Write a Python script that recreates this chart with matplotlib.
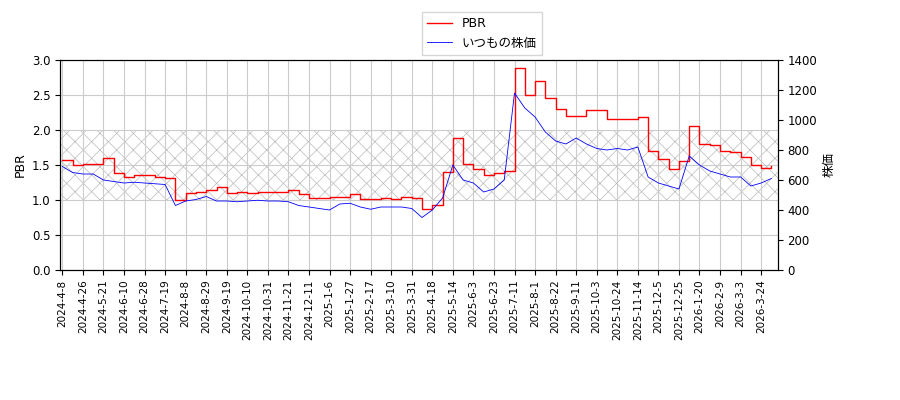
import numpy as np
import matplotlib.pyplot as plt

plt.rcParams['font.family'] = ['DejaVu Sans', 'Noto Sans CJK JP']
plt.rcParams['hatch.linewidth'] = 0.5

tick_labels = ['2024-4-8', '2024-4-26', '2024-5-21', '2024-6-10', '2024-6-28', '2024-7-19',
               '2024-8-8', '2024-8-29', '2024-9-19', '2024-10-10', '2024-10-31', '2024-11-21',
               '2024-12-11', '2025-1-6', '2025-1-27', '2025-2-17', '2025-3-10', '2025-3-31',
               '2025-4-18', '2025-5-14', '2025-6-3', '2025-6-23', '2025-7-11', '2025-8-1',
               '2025-8-22', '2025-9-11', '2025-10-3', '2025-10-24', '2025-11-14', '2025-12-5',
               '2025-12-25', '2026-1-20', '2026-2-9', '2026-3-3', '2026-3-24']

# two readings per tick interval
price = [690, 650, 640, 640, 600, 590, 580, 585, 580, 575, 570, 430, 460, 470, 490, 460,
         460, 455, 460, 465, 460, 460, 455, 430, 420, 410, 400, 440, 445, 420, 405, 420,
         420, 420, 410, 350, 400, 480, 700, 600, 580, 520, 540, 600, 1180, 1080, 1020, 920,
         860, 840, 880, 840, 810, 800, 810, 800, 820, 620, 580, 560, 540, 760, 700, 660,
         640, 620, 620, 560, 580, 610]
pbr = [1.57, 1.50, 1.52, 1.52, 1.60, 1.38, 1.33, 1.35, 1.35, 1.33, 1.32, 1.00, 1.10, 1.12,
       1.15, 1.18, 1.10, 1.12, 1.10, 1.12, 1.12, 1.12, 1.15, 1.08, 1.03, 1.03, 1.05, 1.05,
       1.08, 1.02, 1.02, 1.03, 1.02, 1.04, 1.03, 0.87, 0.93, 1.40, 1.88, 1.52, 1.45, 1.35,
       1.38, 1.42, 2.88, 2.50, 2.70, 2.45, 2.30, 2.20, 2.20, 2.28, 2.28, 2.16, 2.16, 2.16,
       2.18, 1.70, 1.58, 1.45, 1.55, 2.05, 1.80, 1.78, 1.70, 1.68, 1.62, 1.50, 1.46, 1.48]

x = np.arange(len(price)) * 0.5

fig = plt.figure(figsize=(9, 4), dpi=100)
ax1 = fig.add_axes([0.067, 0.325, 0.797, 0.525])
ax1.axhspan(1.0, 2.0, facecolor='none', edgecolor='#bbbbbb', hatch='xx', linewidth=0)
ax1.plot(x, pbr, color='red', linewidth=1, drawstyle='steps-post', label='PBR')
ax1.set_ylim(0, 3.0)
ax1.set_xlim(-0.1, x[-1] + 0.3)
ax1.set_ylabel('PBR', fontsize=9)
ax1.grid(True, color='#cccccc')
ax1.tick_params(labelsize=8.5)
ax1.set_xticks(range(len(tick_labels)))
ax1.set_xticklabels(tick_labels, rotation=90, fontsize=7.5)

ax2 = ax1.twinx()
ax2.plot(x, price, color='blue', linewidth=0.6, label='いつもの株価')
ax2.set_ylim(0, 1400)
ax2.set_ylabel('株価', fontsize=9)
ax2.tick_params(labelsize=8.5)

h1, l1 = ax1.get_legend_handles_labels()
h2, l2 = ax2.get_legend_handles_labels()
fig.legend(h1 + h2, l1 + l2, loc='upper center', bbox_to_anchor=(0.535, 0.985),
           fontsize=9, fancybox=False)

plt.savefig('out.png', dpi=100, facecolor='white')
